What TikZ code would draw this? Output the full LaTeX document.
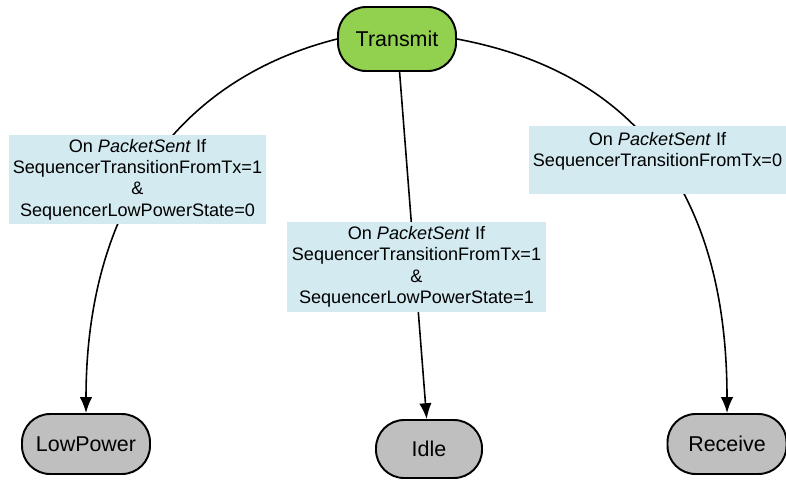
\documentclass[tikz,border=0pt]{standalone}
\usepackage{fontspec}
\setmainfont{Liberation Sans}
\usetikzlibrary{arrows.meta}
\usetikzlibrary{positioning}

\definecolor{txgreen}{HTML}{92D050}
\definecolor{stategray}{HTML}{BFBFBF}
\definecolor{condblue}{HTML}{D3EAF0}

\begin{document}
\begin{tikzpicture}[x=0.02cm,y=-0.02cm]
			\tikzset{state/.style = {shape=rectangle,draw,line width=1.1pt,
					rounded corners=16pt,fill=stategray,minimum height=1.2cm,
					inner sep=0pt,font=\fontsize{12.2}{14}\selectfont}}
			\tikzset{stateTx/.style = {state,fill=txgreen,minimum width=2.36cm,
					minimum height=1.28cm}}
			\tikzset{edge/.style = {-{Latex[length=9pt,width=7pt]},line width=0.9pt}}
			\tikzset{cond/.style = {shape=rectangle,fill=condblue,align=center,
					inner sep=2pt,minimum width=5.14cm,
					font=\fontsize{10.3}{12.2}\selectfont}}
			
			\useasboundingbox (0,0) rectangle (786,480);
			
			% states
			\node[stateTx] (tx) at (397,39) {Transmit};
			\node[state,minimum width=2.56cm] (lp) at (86,444) {LowPower};
			\node[state,minimum width=2.12cm,minimum height=1.16cm] (idle) at (429,449) {Idle};
			\node[state,minimum width=2.38cm] (rx) at (727,444) {Receive};
			
			% transitions
			\draw[edge] (tx.west) .. controls (175,80) and (86,210) .. (lp.north);
			\draw[edge] (tx) -- (idle);
			\draw[edge] (tx.east) .. controls (650,75) and (727,210) .. (rx.north);
			
			% conditions
			\node[cond,minimum height=1.78cm] (c1) at (137.5,179.5)
				{On \textit{PacketSent} If\\SequencerTransitionFromTx=1\\\&\\SequencerLowPowerState=0};
			\node[cond,minimum width=5.18cm,minimum height=1.8cm] (c2) at (416.5,267)
				{On \textit{PacketSent} If\\SequencerTransitionFromTx=1\\\&\\SequencerLowPowerState=1};
			\node[cond,minimum height=1.36cm] (c3) at (657.5,160)
				{On \textit{PacketSent} If\\SequencerTransitionFromTx=0\\\mbox{}};
			
\end{tikzpicture}
\end{document}
